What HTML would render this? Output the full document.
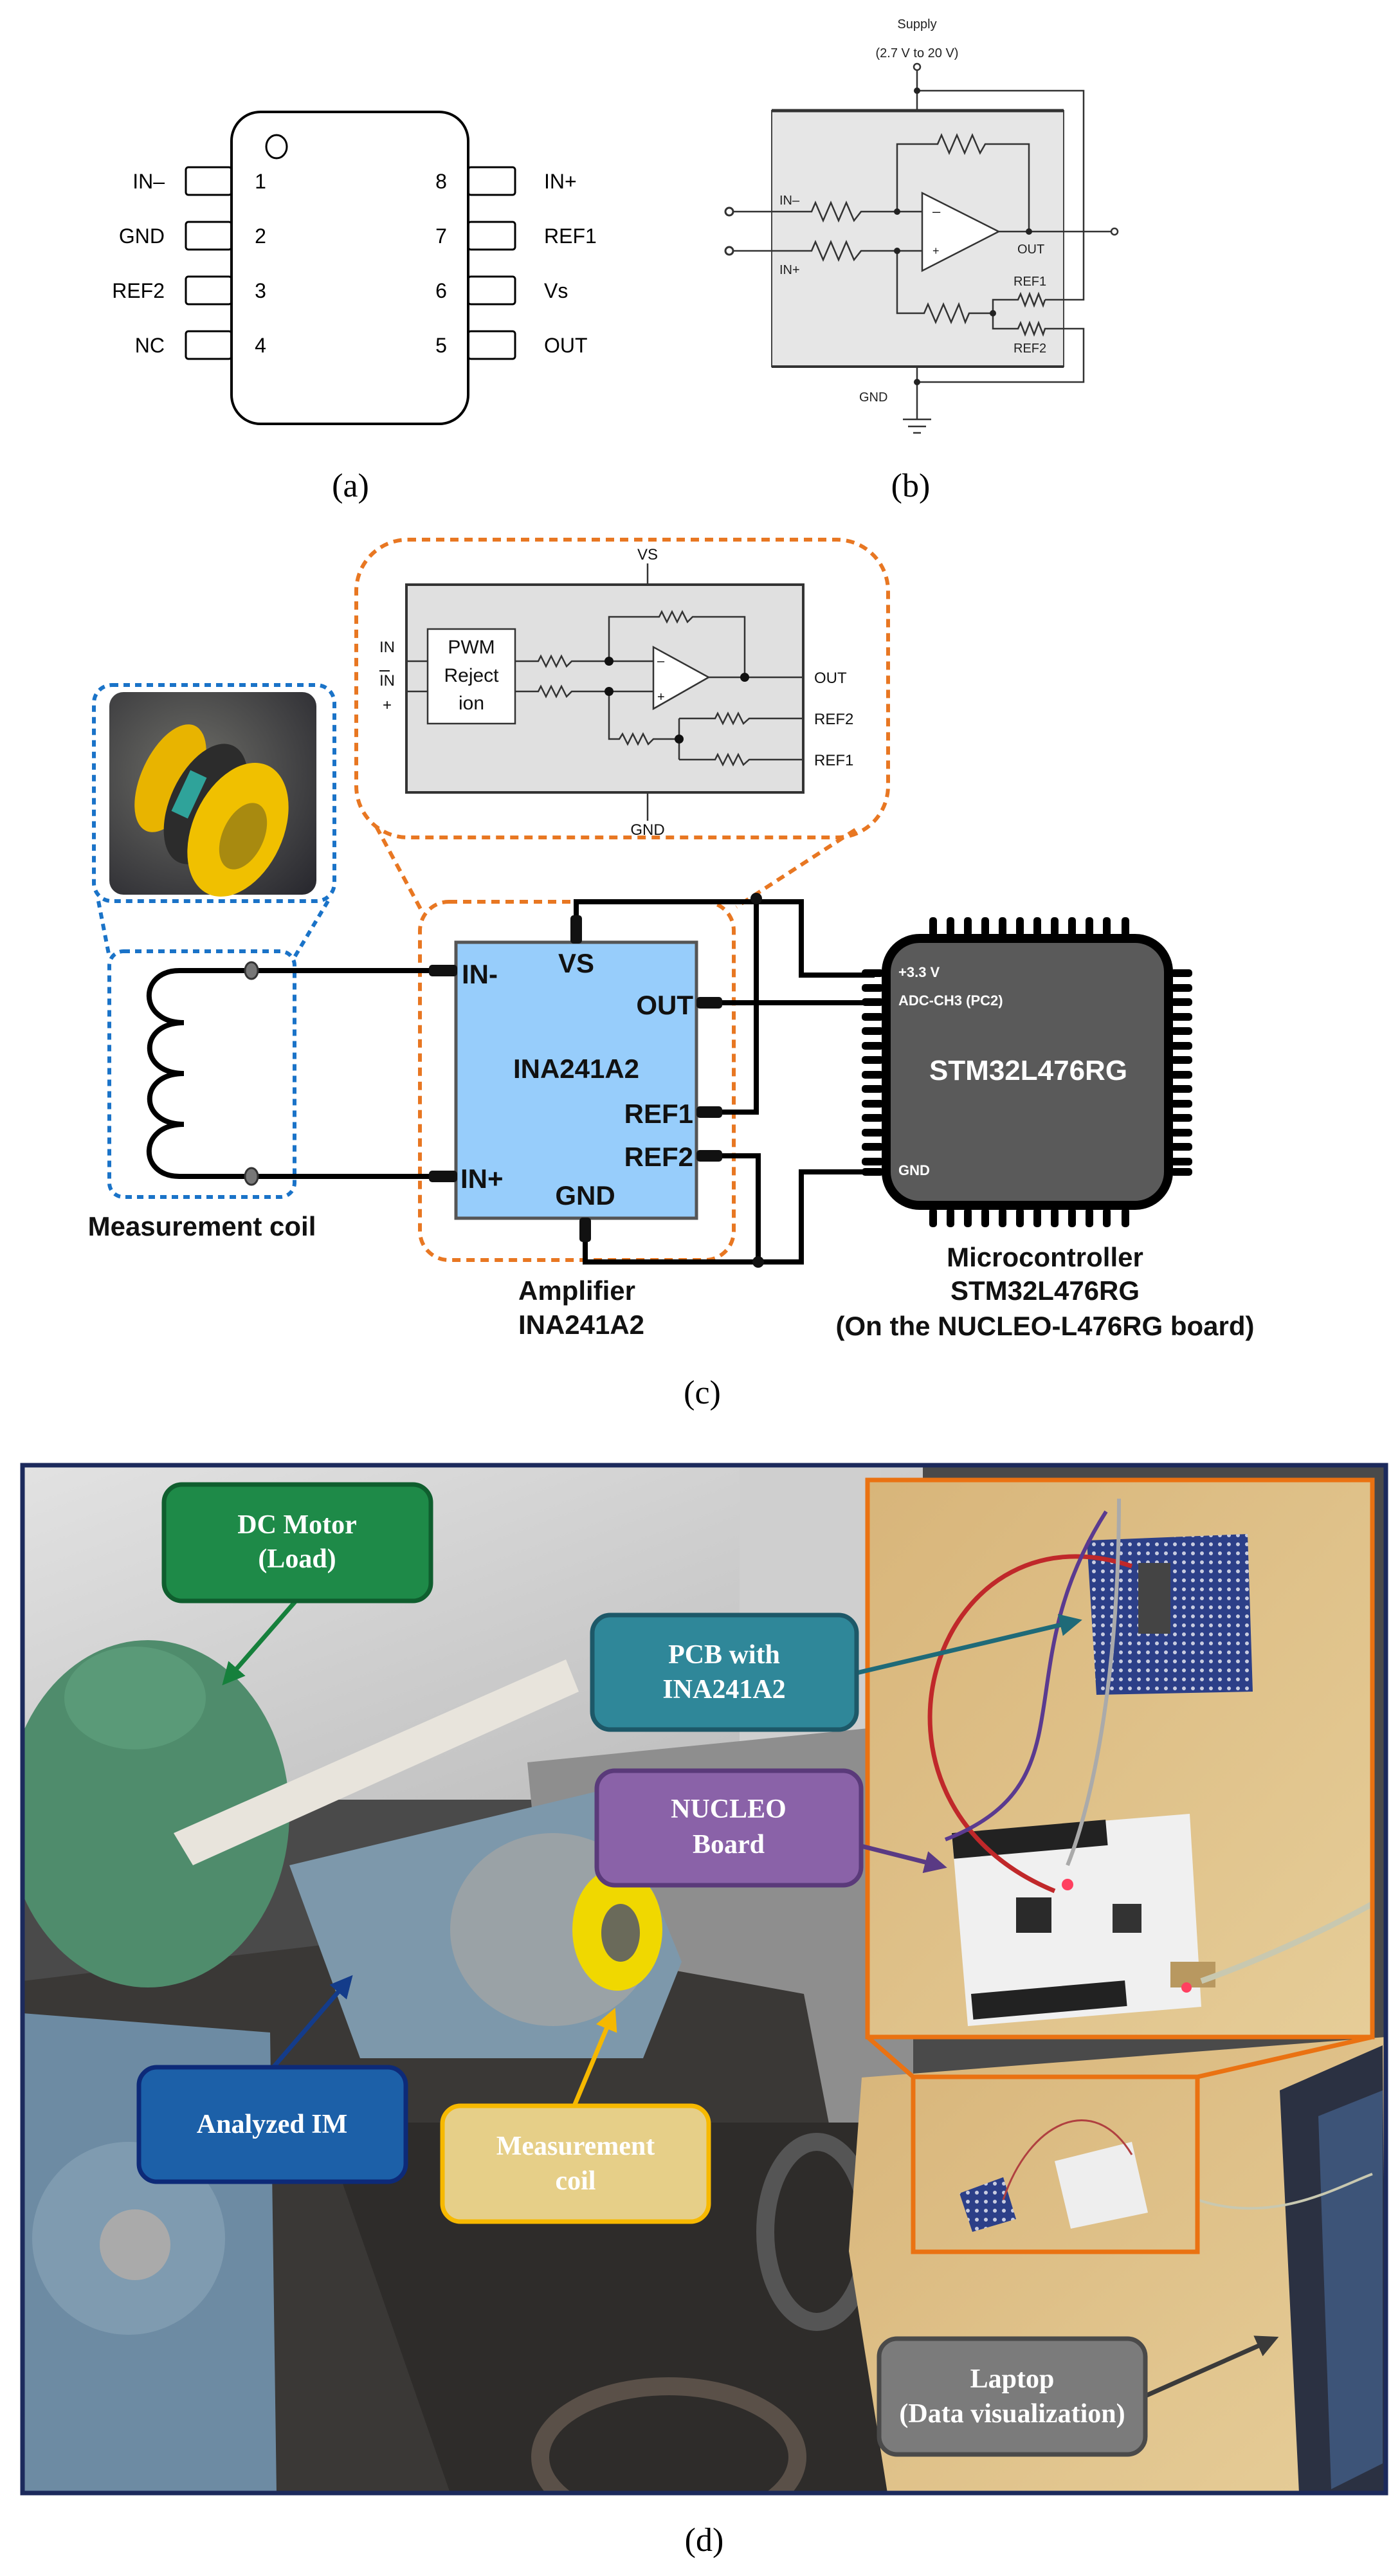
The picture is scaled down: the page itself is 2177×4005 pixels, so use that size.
<!DOCTYPE html>
<html><head><meta charset="utf-8"><style>
html,body{margin:0;padding:0;background:#fff}
svg{display:block}
.a{font-family:"Liberation Sans Narrow","Liberation Sans",sans-serif}
.s{font-family:"Liberation Serif",serif}
</style></head><body>
<svg width="2177" height="4005" viewBox="0 0 2177 4005" xmlns="http://www.w3.org/2000/svg">
<rect width="2177" height="4005" fill="#fff"/>

<!-- ===== Panel (a) ===== -->
<g stroke="#000" stroke-width="3" fill="#fff">
<rect x="289" y="260" width="71" height="43" rx="4"/>
<rect x="289" y="345" width="71" height="43" rx="4"/>
<rect x="289" y="430" width="71" height="43" rx="4"/>
<rect x="289" y="515" width="71" height="43" rx="4"/>
<rect x="728" y="260" width="73" height="43" rx="4"/>
<rect x="728" y="345" width="73" height="43" rx="4"/>
<rect x="728" y="430" width="73" height="43" rx="4"/>
<rect x="728" y="515" width="73" height="43" rx="4"/>
<rect x="360" y="174" width="368" height="485" rx="45" stroke-width="4"/>
<ellipse cx="430" cy="228" rx="16" ry="18"/>
</g>
<g class="a" font-size="32" fill="#000">
<g text-anchor="end"><text x="256" y="293">IN–</text><text x="256" y="378">GND</text><text x="256" y="463">REF2</text><text x="256" y="548">NC</text></g>
<text x="846" y="293">IN+</text><text x="846" y="378">REF1</text><text x="846" y="463">Vs</text><text x="846" y="548">OUT</text>
<g text-anchor="middle"><text x="405" y="293">1</text><text x="405" y="378">2</text><text x="405" y="463">3</text><text x="405" y="548">4</text>
<text x="686" y="293">8</text><text x="686" y="378">7</text><text x="686" y="463">6</text><text x="686" y="548">5</text></g>
</g>
<text class="s" x="545" y="772" font-size="52" text-anchor="middle">(a)</text>

<!-- ===== Panel (b) ===== -->
<rect x="1200" y="172" width="454" height="398" fill="#e6e6e6" stroke="#444" stroke-width="2"/>
<line x1="1200" y1="172" x2="1654" y2="172" stroke="#333" stroke-width="5"/>
<line x1="1200" y1="570" x2="1654" y2="570" stroke="#333" stroke-width="4"/>
<g stroke="#333" stroke-width="2.5" fill="none">
<circle cx="1426" cy="104" r="5"/>
<polyline points="1426,109 1426,172"/>
<polyline points="1426,141 1685,141 1685,466 1625,466"/>
<polyline points="1625,466 1622,475 1615,457 1608,475 1601,457 1594,475 1587,457 1583,466 1544,466 1544,511 1583,511 1587,502 1594,520 1601,502 1608,520 1615,502 1622,520 1625,511 1685,511 1685,594 1426,594"/>
<polyline points="1426,570 1426,652"/>
<line x1="1404" y1="652" x2="1448" y2="652"/><line x1="1412" y1="663" x2="1440" y2="663"/><line x1="1420" y1="673" x2="1432" y2="673"/>
<circle cx="1134" cy="329" r="6" stroke-width="3"/><circle cx="1134" cy="390" r="6" stroke-width="3"/>
<polyline points="1140,329 1262,329 1268,315 1280,343 1292,315 1304,343 1316,315 1328,343 1339,329 1434,329"/>
<polyline points="1140,390 1262,390 1268,376 1280,404 1292,376 1304,404 1316,376 1328,404 1339,390 1434,390"/>
<polyline points="1395,329 1395,224 1458,224 1464,210 1476,238 1488,210 1500,238 1512,210 1524,238 1532,224 1600,224 1600,360"/>
<polyline points="1395,390 1395,487 1437,487 1443,473 1455,501 1467,473 1479,501 1491,473 1501,501 1507,487 1544,487"/>
<polygon points="1434,300 1434,421 1553,360" fill="#fff"/>
<polyline points="1553,360 1727,360"/>
<circle cx="1733" cy="360" r="5"/>
</g>
<g fill="#222"><circle cx="1426" cy="141" r="5"/><circle cx="1426" cy="594" r="5"/><circle cx="1395" cy="329" r="5"/><circle cx="1395" cy="390" r="5"/><circle cx="1600" cy="360" r="5"/><circle cx="1544" cy="487" r="5"/></g>
<g class="a" font-size="20" fill="#222">
<text x="1426" y="44" text-anchor="middle">Supply</text>
<text x="1426" y="89" text-anchor="middle">(2.7 V to 20 V)</text>
<text x="1212" y="318">IN–</text><text x="1212" y="426">IN+</text>
<text x="1582" y="394">OUT</text><text x="1576" y="444">REF1</text><text x="1576" y="548">REF2</text>
<text x="1336" y="624">GND</text>
<text x="1450" y="336" font-size="22">–</text><text x="1450" y="396" font-size="18">+</text>
</g>
<text class="s" x="1416" y="772" font-size="52" text-anchor="middle">(b)</text>

<!-- ===== Panel (c) ===== -->
<g fill="none" stroke="#e87722" stroke-width="6" stroke-dasharray="13 9">
<rect x="554" y="839" width="827" height="463" rx="80"/>
<line x1="585" y1="1285" x2="655" y2="1415"/>
<line x1="1330" y1="1290" x2="1145" y2="1410"/>
<rect x="653" y="1402" width="488" height="557" rx="45"/>
</g>
<rect x="632" y="909" width="617" height="323" fill="#e0e0e0" stroke="#333" stroke-width="4"/>
<g stroke="#333" stroke-width="2.5" fill="none">
<line x1="1007" y1="876" x2="1007" y2="909"/><line x1="1007" y1="1232" x2="1007" y2="1276"/>
<line x1="632" y1="1028" x2="665" y2="1028"/><line x1="632" y1="1075" x2="665" y2="1075"/>
<rect x="665" y="978" width="136" height="147" fill="#fff"/>
<polyline points="801,1028 837,1028 841,1020 849,1036 857,1020 865,1036 873,1020 881,1036 889,1028 1016,1028"/>
<polyline points="801,1075 837,1075 841,1067 849,1083 857,1067 865,1083 873,1067 881,1083 889,1075 1016,1075"/>
<polyline points="947,1028 947,959 1025,959 1029,951 1037,967 1045,951 1053,967 1061,951 1069,967 1077,959 1158,959 1158,1053"/>
<polyline points="1102,1053 1249,1053"/>
<polyline points="947,1075 947,1149 963,1149 968,1141 976,1157 984,1141 992,1157 1000,1141 1008,1157 1016,1149 1056,1149"/>
<polyline points="1056,1117 1056,1181"/>
<polyline points="1056,1117 1112,1117 1116,1109 1124,1125 1132,1109 1140,1125 1148,1109 1156,1125 1165,1117 1249,1117"/>
<polyline points="1056,1181 1112,1181 1116,1173 1124,1189 1132,1173 1140,1189 1148,1173 1156,1189 1165,1181 1249,1181"/>
<polygon points="1016,1006 1016,1102 1102,1053" fill="#fff"/>
</g>
<g fill="#111"><circle cx="947" cy="1028" r="7"/><circle cx="947" cy="1075" r="7"/><circle cx="1158" cy="1053" r="7"/><circle cx="1056" cy="1149" r="7"/></g>
<g class="a" fill="#111" font-size="24">
<text x="1007" y="870" text-anchor="middle">VS</text><text x="1007" y="1298" text-anchor="middle">GND</text>
<text x="590" y="1014">IN</text><text x="590" y="1066">IN</text><line x1="590" y1="1043" x2="606" y2="1043" stroke="#111" stroke-width="2"/>
<text x="595" y="1104">+</text>
<text x="1266" y="1062">OUT</text><text x="1266" y="1126">REF2</text><text x="1266" y="1190">REF1</text>
<text x="1022" y="1034" font-size="20">–</text><text x="1022" y="1090" font-size="20">+</text>
</g>
<g class="a" fill="#111" font-size="30" text-anchor="middle">
<text x="733" y="1016">PWM</text><text x="733" y="1060">Reject</text><text x="733" y="1103">ion</text>
</g>
<g fill="none" stroke="#1a73c8" stroke-width="6" stroke-dasharray="10 8">
<rect x="146" y="1065" width="374" height="336" rx="28"/>
<rect x="170" y="1479" width="288" height="382" rx="22"/>
<line x1="153" y1="1401" x2="170" y2="1488"/>
<line x1="510" y1="1401" x2="458" y2="1488"/>
</g>
<defs>
<radialGradient id="bg1" cx="0.4" cy="0.4" r="0.8"><stop offset="0" stop-color="#6e6e68"/><stop offset="1" stop-color="#2a2a30"/></radialGradient>
</defs>
<rect x="170" y="1076" width="322" height="315" rx="22" fill="url(#bg1)"/>
<ellipse cx="265" cy="1210" rx="45" ry="90" fill="#e8b400" transform="rotate(25 265 1210)"/>
<ellipse cx="320" cy="1250" rx="55" ry="100" fill="#2c2c2c" transform="rotate(25 320 1250)"/>
<rect x="280" y="1200" width="28" height="70" fill="#2fa39a" transform="rotate(25 294 1235)"/>
<ellipse cx="370" cy="1290" rx="70" ry="110" fill="#f0c000" transform="rotate(25 370 1290)"/>
<ellipse cx="378" cy="1300" rx="32" ry="55" fill="#a88a10" transform="rotate(25 378 1300)"/>
<rect x="709" y="1465" width="374" height="429" fill="#97cdfb" stroke="#555" stroke-width="5"/>
<g stroke="#000" stroke-width="8" fill="none" stroke-linejoin="miter">
<path d="M709,1509 L279,1509 C215,1509 215,1590 286,1590 C215,1590 215,1669 286,1669 C215,1669 215,1748 286,1748 C215,1748 215,1829 279,1829 L709,1829"/>
<polyline points="896,1465 896,1402 1176,1402 1246,1402 1246,1516 1360,1516"/>
<polyline points="1176,1402 1176,1729 1115,1729"/>
<polyline points="1115,1559 1360,1559"/>
<polyline points="1115,1797 1179,1797 1179,1962"/>
<polyline points="910,1894 910,1962 1246,1962 1246,1822 1360,1822"/>
</g>
<g fill="#111"><rect x="667" y="1500" width="44" height="18" rx="5"/><rect x="667" y="1820" width="44" height="18" rx="5"/>
<rect x="1083" y="1550" width="40" height="18" rx="5"/><rect x="1083" y="1720" width="40" height="18" rx="5"/><rect x="1083" y="1788" width="40" height="18" rx="5"/>
<rect x="887" y="1423" width="18" height="44" rx="5"/><rect x="901" y="1893" width="18" height="38" rx="5"/>
<circle cx="1176" cy="1397" r="9"/><circle cx="1179" cy="1962" r="9"/></g>
<g fill="#777" stroke="#333" stroke-width="3"><ellipse cx="391" cy="1509" rx="10" ry="13"/><ellipse cx="391" cy="1829" rx="10" ry="13"/></g>
<g class="a" font-weight="bold" fill="#111" font-size="42">
<text x="896" y="1512" text-anchor="middle">VS</text>
<text x="718" y="1529">IN-</text>
<text x="1078" y="1577" text-anchor="end">OUT</text>
<text x="896" y="1676" text-anchor="middle">INA241A2</text>
<text x="1078" y="1746" text-anchor="end">REF1</text>
<text x="1078" y="1813" text-anchor="end">REF2</text>
<text x="716" y="1847">IN+</text>
<text x="910" y="1873" text-anchor="middle">GND</text>
</g>
<g fill="#000">
<g id="tp"><rect x="1445" y="1426" width="12" height="30" rx="5"/><rect x="1472" y="1426" width="12" height="30" rx="5"/><rect x="1499" y="1426" width="12" height="30" rx="5"/><rect x="1526" y="1426" width="12" height="30" rx="5"/><rect x="1553" y="1426" width="12" height="30" rx="5"/><rect x="1580" y="1426" width="12" height="30" rx="5"/><rect x="1607" y="1426" width="12" height="30" rx="5"/><rect x="1634" y="1426" width="12" height="30" rx="5"/><rect x="1661" y="1426" width="12" height="30" rx="5"/><rect x="1688" y="1426" width="12" height="30" rx="5"/><rect x="1715" y="1426" width="12" height="30" rx="5"/><rect x="1744" y="1426" width="12" height="30" rx="5"/></g>
<use href="#tp" y="452"/>
<g id="lp"><rect x="1340" y="1507" width="34" height="12" rx="5"/><rect x="1340" y="1530" width="34" height="12" rx="5"/><rect x="1340" y="1552" width="34" height="12" rx="5"/><rect x="1340" y="1575" width="34" height="12" rx="5"/><rect x="1340" y="1597" width="34" height="12" rx="5"/><rect x="1340" y="1620" width="34" height="12" rx="5"/><rect x="1340" y="1642" width="34" height="12" rx="5"/><rect x="1340" y="1665" width="34" height="12" rx="5"/><rect x="1340" y="1687" width="34" height="12" rx="5"/><rect x="1340" y="1710" width="34" height="12" rx="5"/><rect x="1340" y="1732" width="34" height="12" rx="5"/><rect x="1340" y="1755" width="34" height="12" rx="5"/><rect x="1340" y="1777" width="34" height="12" rx="5"/><rect x="1340" y="1800" width="34" height="12" rx="5"/><rect x="1340" y="1816" width="34" height="12" rx="5"/></g>
<use href="#lp" x="480"/>
</g>
<rect x="1378" y="1459" width="439" height="415" rx="52" fill="#5a5a5a" stroke="#000" stroke-width="14"/>
<g font-family="Liberation Sans,sans-serif" font-weight="bold" fill="#fff">
<text x="1397" y="1519" font-size="22">+3.3 V</text>
<text x="1397" y="1563" font-size="22">ADC-CH3 (PC2)</text>
<text x="1599" y="1679" font-size="44" text-anchor="middle">STM32L476RG</text>
<text x="1397" y="1827" font-size="22">GND</text>
</g>
<g class="a" font-weight="bold" fill="#111" font-size="42" text-anchor="middle">
<text x="314" y="1921">Measurement coil</text>
<text x="897" y="2021">Amplifier</text>
<text x="904" y="2074">INA241A2</text>
<text x="1625" y="1969">Microcontroller</text>
<text x="1625" y="2021">STM32L476RG</text>
<text x="1625" y="2076">(On the NUCLEO-L476RG board)</text>
</g>
<text class="s" x="1092" y="2182" font-size="52" text-anchor="middle">(c)</text>

<!-- ===== Panel (d) ===== -->
<defs>
<linearGradient id="wall" x1="0" y1="0" x2="1" y2="1"><stop offset="0" stop-color="#e2e2e2"/><stop offset="1" stop-color="#b9b9b9"/></linearGradient>
<linearGradient id="wood" x1="0" y1="0" x2="1" y2="1"><stop offset="0" stop-color="#d8b57a"/><stop offset="1" stop-color="#e6cd98"/></linearGradient>
<clipPath id="fr"><rect x="35" y="2278" width="2120" height="1598"/></clipPath>
<pattern id="dots" width="14" height="14" patternUnits="userSpaceOnUse"><rect width="14" height="14" fill="#2c3f88"/><circle cx="7" cy="7" r="3" fill="#c8cce0"/></pattern>
</defs>
<g clip-path="url(#fr)">
<rect x="35" y="2278" width="2120" height="1598" fill="#4a4a4a"/>
<rect x="35" y="2278" width="1400" height="520" fill="url(#wall)"/>
<rect x="1150" y="2278" width="220" height="450" fill="#cfcfcf"/>
<polygon points="820,2740 1420,2680 1420,3520 900,3560" fill="#8e8e8e"/>
<polygon points="35,3080 700,3000 1250,3100 1400,3876 35,3876" fill="#3a3836"/>
<polygon points="35,3130 420,3160 430,3876 35,3876" fill="#6d8ba3"/>
<circle cx="200" cy="3480" r="150" fill="#7f9bb0"/>
<circle cx="210" cy="3490" r="55" fill="#aaaaaa"/>
<ellipse cx="230" cy="2820" rx="220" ry="270" fill="#4f8c6c"/>
<ellipse cx="210" cy="2640" rx="110" ry="80" fill="#5a9a78"/>
<polygon points="270,2850 880,2580 900,2630 300,2900" fill="#e8e4dc"/>
<polygon points="450,2900 950,2780 1060,3050 1000,3200 560,3200" fill="#7d98ab"/>
<ellipse cx="860" cy="3000" rx="160" ry="150" fill="#9aa2a6"/>
<ellipse cx="960" cy="3000" rx="70" ry="95" fill="#f0d800"/>
<ellipse cx="965" cy="3005" rx="30" ry="45" fill="#6a6a5a"/>
<polygon points="500,3300 1400,3300 1400,3876 700,3876" fill="#2e2c2a"/>
<ellipse cx="1270" cy="3470" rx="80" ry="140" fill="none" stroke="#555" stroke-width="28"/>
<ellipse cx="1040" cy="3820" rx="200" ry="110" fill="none" stroke="#5a5048" stroke-width="28"/>
<polygon points="1340,3230 2155,3167 2155,3876 1380,3876 1320,3500" fill="url(#wood)"/>
<polygon points="1990,3250 2150,3180 2155,3876 2020,3876" fill="#2b3142"/>
<polygon points="2050,3290 2150,3250 2150,3830 2070,3870" fill="#3d5478"/>
<rect x="1349" y="2301" width="785" height="866" fill="url(#wood)"/>
<!-- perfboard -->
<polygon points="1690,2395 1940,2385 1948,2630 1705,2635" fill="url(#dots)"/>
<rect x="1770" y="2430" width="50" height="110" fill="#444"/>
<!-- NUCLEO -->
<polygon points="1480,2850 1850,2820 1868,3120 1505,3150" fill="#f0f0f0"/>
<rect x="1480" y="2850" width="240" height="40" fill="#222" transform="rotate(-5 1480 2850)"/>
<rect x="1510" y="3100" width="240" height="40" fill="#222" transform="rotate(-5 1510 3100)"/>
<rect x="1580" y="2950" width="55" height="55" fill="#2a2a2a"/>
<rect x="1730" y="2960" width="45" height="45" fill="#333"/>
<rect x="1820" y="3050" width="70" height="40" fill="#b89860"/>
<circle cx="1660" cy="2930" r="9" fill="#ff4060"/><circle cx="1845" cy="3090" r="8" fill="#ff4060"/>
<path d="M1760,2435 C1450,2330 1300,2800 1640,2940" stroke="#c0282a" stroke-width="7" fill="none"/>
<path d="M1720,2350 C1560,2600 1700,2770 1470,2860" stroke="#5a3a90" stroke-width="6" fill="none"/>
<path d="M1740,2330 C1740,2600 1700,2800 1660,2900" stroke="#aaaaaa" stroke-width="6" fill="none"/>
<path d="M1868,3080 C1980,3040 2080,2990 2134,2960" stroke="#c8c8b0" stroke-width="9" fill="none"/>
<path d="M1862,3420 C1980,3460 2080,3400 2134,3380" stroke="#c8c8b0" stroke-width="4" fill="none"/>
<polygon points="1492,3410 1560,3385 1580,3450 1512,3470" fill="url(#dots)"/>
<polygon points="1640,3360 1760,3330 1785,3440 1665,3465" fill="#eeeeee"/>
<path d="M1560,3420 C1600,3300 1700,3250 1760,3350" stroke="#b04040" stroke-width="3" fill="none"/>
</g>
<rect x="35" y="2278" width="2120" height="1598" fill="none" stroke="#1c2a5c" stroke-width="7"/>
<g fill="none" stroke="#ea7212" stroke-width="7">
<rect x="1349" y="2301" width="785" height="866"/>
<rect x="1420" y="3229" width="442" height="272"/>
<line x1="1349" y1="3167" x2="1420" y2="3229"/><line x1="2134" y1="3167" x2="1862" y2="3229"/>
</g>
<defs>
<marker id="mg" viewBox="0 0 10 10" refX="8" refY="5" markerWidth="5" markerHeight="5" orient="auto"><path d="M0,0 L10,5 L0,10 z" fill="#16803c"/></marker>
<marker id="mt" viewBox="0 0 10 10" refX="8" refY="5" markerWidth="5" markerHeight="5" orient="auto"><path d="M0,0 L10,5 L0,10 z" fill="#1f6a78"/></marker>
<marker id="mp" viewBox="0 0 10 10" refX="8" refY="5" markerWidth="5" markerHeight="5" orient="auto"><path d="M0,0 L10,5 L0,10 z" fill="#5a3a84"/></marker>
<marker id="mb" viewBox="0 0 10 10" refX="8" refY="5" markerWidth="5" markerHeight="5" orient="auto"><path d="M0,0 L10,5 L0,10 z" fill="#143c8a"/></marker>
<marker id="my" viewBox="0 0 10 10" refX="8" refY="5" markerWidth="5" markerHeight="5" orient="auto"><path d="M0,0 L10,5 L0,10 z" fill="#f5b800"/></marker>
<marker id="mk" viewBox="0 0 10 10" refX="8" refY="5" markerWidth="5" markerHeight="5" orient="auto"><path d="M0,0 L10,5 L0,10 z" fill="#3a3a3a"/></marker>
</defs>
<g stroke-width="7" fill="none">
<line x1="460" y1="2489" x2="350" y2="2615" stroke="#16803c" marker-end="url(#mg)"/>
<line x1="1332" y1="2601" x2="1676" y2="2520" stroke="#1f6a78" marker-end="url(#mt)"/>
<line x1="1339" y1="2870" x2="1466" y2="2902" stroke="#5a3a84" marker-end="url(#mp)"/>
<line x1="425" y1="3214" x2="544" y2="3076" stroke="#143c8a" marker-end="url(#mb)"/>
<line x1="893" y1="3274" x2="954" y2="3128" stroke="#f5b800" marker-end="url(#my)"/>
<line x1="1781" y1="3725" x2="1982" y2="3636" stroke="#3a3a3a" marker-end="url(#mk)"/>
</g>
<g stroke-width="7">
<rect x="255" y="2308" width="415" height="181" rx="28" fill="#1e8a48" stroke="#0f5e2e"/>
<rect x="921" y="2511" width="411" height="178" rx="28" fill="#2f8799" stroke="#1d5868"/>
<rect x="928" y="2753" width="411" height="178" rx="28" fill="#8a62a8" stroke="#5a3a7a"/>
<rect x="216" y="3214" width="415" height="178" rx="28" fill="#1c60a8" stroke="#0d2a78"/>
<rect x="688" y="3274" width="414" height="180" rx="28" fill="#e6cf88" stroke="#f7b900"/>
<rect x="1367" y="3636" width="414" height="180" rx="28" fill="#7b7b7b" stroke="#4a4a4a"/>
</g>
<g class="s" font-weight="bold" fill="#fff" font-size="42" text-anchor="middle">
<text x="462" y="2384">DC Motor</text><text x="462" y="2437">(Load)</text>
<text x="1126" y="2586">PCB with</text><text x="1126" y="2640">INA241A2</text>
<text x="1133" y="2826">NUCLEO</text><text x="1133" y="2881">Board</text>
<text x="423" y="3316">Analyzed IM</text>
<text x="895" y="3350">Measurement</text><text x="895" y="3404">coil</text>
<text x="1574" y="3712">Laptop</text><text x="1574" y="3766">(Data visualization)</text>
</g>
<text class="s" x="1095" y="3966" font-size="52" text-anchor="middle">(d)</text>
</svg>
</body></html>
